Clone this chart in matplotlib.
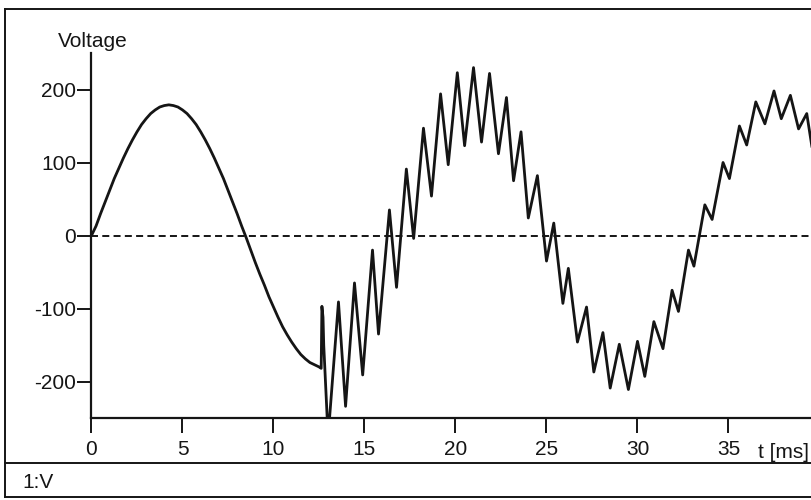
import matplotlib
matplotlib.use("Agg")
import matplotlib.pyplot as plt
from matplotlib.lines import Line2D
from matplotlib.ticker import FixedLocator, FixedFormatter

plt.rcParams['font.family'] = ['Liberation Sans', 'DejaVu Sans']
plt.rcParams['axes.unicode_minus'] = False

# Steady-state voltage before switching (time in ms, voltage in V)
t_steady = [0.0, 0.25, 0.5, 0.75, 1.0, 1.25, 1.5, 1.75, 2.0, 2.25, 2.5,
            2.75, 3.0, 3.25, 3.5, 3.75, 4.0, 4.25, 4.5, 4.75, 5.0, 5.25,
            5.5, 5.75, 6.0, 6.25, 6.5, 6.75, 7.0, 7.25, 7.5, 7.75, 8.0,
            8.25, 8.5, 8.75, 9.0, 9.25, 9.5, 9.75, 10.0, 10.25, 10.5,
            10.75, 11.0, 11.25, 11.5, 11.75, 12.0, 12.25, 12.5, 12.62]
v_steady = [0, 13, 30, 46, 62, 78, 92, 106, 119, 131, 142,
            152, 160, 167, 172, 176, 178, 179, 178, 176, 172, 167,
            160, 152, 142, 131, 119, 106, 92, 78, 62, 46, 30,
            13, -3, -20, -37, -53, -68, -84, -98, -112, -125,
            -136, -146, -155, -163, -169, -174, -177, -180, -182]

# Switching transient: initial spike, then successive peaks and troughs
t_transient = [12.66, 12.72, 12.76, 12.95, 13.08,
               13.57, 13.96, 14.45, 14.90, 15.44, 15.77, 16.37, 16.76,
               17.30, 17.70, 18.24, 18.68, 19.18, 19.60, 20.10, 20.50,
               20.99, 21.43, 21.87, 22.36, 22.80, 23.19, 23.60, 24.00,
               24.50, 25.00, 25.40, 25.90, 26.20, 26.70, 27.20, 27.60,
               28.10, 28.50, 29.00, 29.50, 30.00, 30.40, 30.90, 31.40,
               31.90, 32.25, 32.80, 33.10, 33.70, 34.10, 34.70, 35.05,
               35.60, 36.00, 36.50, 37.00, 37.50, 37.90, 38.40, 38.85,
               39.30, 39.60]
v_transient = [-97, -112, -150, -250, -250,
               -91, -234, -65, -191, -20, -135, 35, -71,
               91, -4, 147, 54, 194, 97, 223, 123,
               230, 128, 222, 112, 189, 75, 142, 24,
               82, -35, 17, -93, -45, -146, -98, -187,
               -133, -209, -149, -211, -145, -193, -118, -155,
               -75, -104, -20, -42, 42, 22, 100, 78,
               150, 124, 183, 153, 198, 160, 192, 146,
               167, 119]

x_ticks = [0, 5, 10, 15, 20, 25, 30, 35]
x_tick_labels = ["0", "5", "10", "15", "20", "25", "30", "35"]
y_ticks = [-200, -100, 0, 100, 200]
y_tick_labels = ["-200", "-100", "0", "100", "200"]

W, H = 812, 500
fig = plt.figure(figsize=(W / 100, H / 100), dpi=100)
fig.patch.set_facecolor("white")

ax_left, ax_bottom, ax_top = 91.5, 418, 53
ax = fig.add_axes([ax_left / W, (H - ax_bottom) / H,
                   (W - ax_left) / W, (ax_bottom - ax_top) / H])

ink = "#151515"
t_all = t_steady + t_transient
v_all = v_steady + v_transient
ax.plot(t_all, v_all, color=ink, lw=2.0, solid_joinstyle="round",
        solid_capstyle="round", zorder=3)
ax.axhline(0, color=ink, lw=1.4, linestyle=(0, (3.6, 2.2)), zorder=2)

ax.set_xlim(0, (W - ax_left) / 18.2)
ax.set_ylim(-250, 250)

for side in ("top", "right"):
    ax.spines[side].set_visible(False)
for side in ("left", "bottom"):
    ax.spines[side].set_linewidth(1.6)
    ax.spines[side].set_color(ink)

ax.xaxis.set_major_locator(FixedLocator(x_ticks))
ax.xaxis.set_major_formatter(FixedFormatter(x_tick_labels))
ax.yaxis.set_major_locator(FixedLocator(y_ticks))
ax.yaxis.set_major_formatter(FixedFormatter(y_tick_labels))
ax.tick_params(axis="x", direction="out", length=11, width=1.4, pad=5,
               labelsize=15, colors=ink)
ax.tick_params(axis="y", direction="out", length=10, width=1.4, pad=1,
               labelsize=15, colors=ink)

fig.text(58 / W, 1 - 47 / H, "Voltage", fontsize=15, color=ink, va="baseline")
fig.text(758 / W, 1 - 458 / H, "t [ms]", fontsize=15, color=ink, va="baseline")
fig.text(22 / W, 1 - 488 / H, "1:V", fontsize=15, color=ink, va="baseline")

# Outer panel frame and the status strip at the bottom
frame_lw = 1.4
fig.add_artist(Line2D([5 / W, 5 / W], [1 - 9 / H, 1 - 497 / H],
                      transform=fig.transFigure, color=ink, lw=frame_lw))
fig.add_artist(Line2D([5 / W, 1], [1 - 9 / H, 1 - 9 / H],
                      transform=fig.transFigure, color=ink, lw=frame_lw))
fig.add_artist(Line2D([5 / W, 1], [1 - 463 / H, 1 - 463 / H],
                      transform=fig.transFigure, color=ink, lw=frame_lw))
fig.add_artist(Line2D([5 / W, 1], [1 - 497 / H, 1 - 497 / H],
                      transform=fig.transFigure, color=ink, lw=frame_lw))

fig.savefig("out.png", dpi=100)
